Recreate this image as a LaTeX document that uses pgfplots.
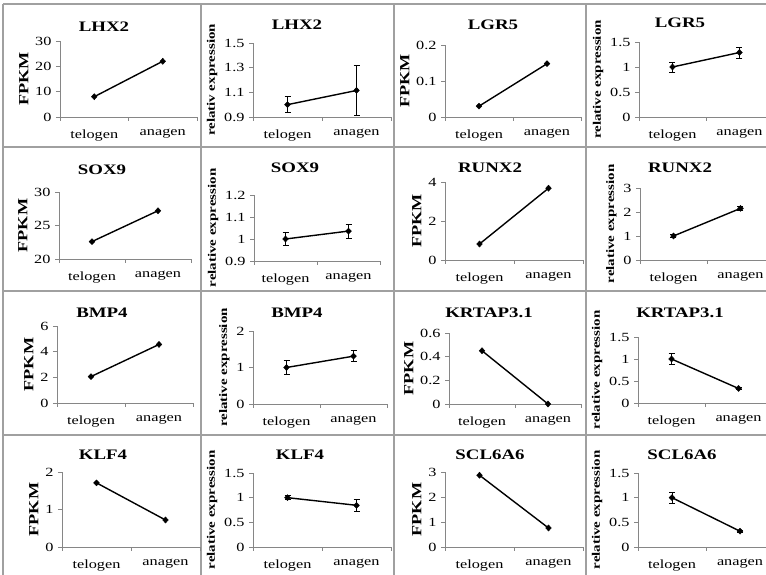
\documentclass[border=0pt]{standalone}
\usepackage{fontspec}
\setmainfont{Liberation Serif}[FakeStretch=1.3]
\usepackage{pgfplots}
\pgfplotsset{compat=1.18}
\definecolor{axgray}{HTML}{868686}
\definecolor{bordgray}{HTML}{A0A0A0}
\pgfplotsset{
  panel/.style={
    scale only axis, anchor=south west, clip=false,
    axis x line*=bottom, axis y line*=left,
    axis line style={draw=axgray, line width=0.8pt, -},
    xmin=0.5, xmax=2.5,
    xtick={1,2}, xticklabels={telogen,anagen},
    minor xtick={0.5,1.5,2.5},
    major x tick style={draw=none},
    minor x tick style={draw=axgray, line width=0.8pt},
    y tick style={draw=axgray, line width=0.8pt},
    tick align=outside, major tick length=4pt, minor tick length=4pt,
    scaled y ticks=false,
    /pgf/number format/assume math mode=true,
    tick label style={font=\fontsize{12.5}{13}\selectfont, text=black},
    xticklabel style={yshift=-5pt},
    yticklabel style={/pgf/number format/fixed, xshift=-1pt},
    ylabel style={font=\fontsize{14}{15}\selectfont\bfseries, yshift=0pt},
  },
  rel/.style={ylabel style={font=\fontsize{11.5}{12}\selectfont\bfseries}},
  pl/.style={black, line width=1.4pt, mark=diamond*, mark size=3pt,
    mark options={solid, fill=black, line width=0.4pt, xscale=1.3}},
  errs/.style={error bars/.cd, y dir=both, y explicit,
    error bar style={line width=0.9pt, black},
    error mark options={rotate=90, mark size=3pt, line width=0.9pt, black}},
}
\newcommand{\panel}[6]{\begin{axis}[panel,at={(#1)},width=#2pt,height=#3pt,#4,ylabel={#5}]\addplot#6;\end{axis}}
\newcommand{\ttl}[2]{\node[font=\fontsize{14.5}{15}\selectfont\bfseries, inner sep=0pt, anchor=center] at (#1) {#2};}
\begin{document}
\begin{tikzpicture}
% panel borders
\begin{scope}[draw=bordgray, line width=1.2pt]
\draw (3pt,571pt) -- (766pt,571pt);
\draw (3pt,428pt) -- (766pt,428pt);
\draw (3pt,284pt) -- (766pt,284pt);
\draw (3pt,140pt) -- (766pt,140pt);
\draw (3pt,571pt) -- (3pt,0pt);
\draw (201pt,571pt) -- (201pt,0pt);
\draw (394pt,571pt) -- (394pt,0pt);
\draw (586pt,571pt) -- (586pt,0pt);
\end{scope}
% row 1
\panel{60pt,458pt}{137}{76}{ymin=0,ymax=30,ytick={0,10,20,30}}{FPKM}{[pl] coordinates {(1,8) (2,22)}}
\panel{253pt,458pt}{138}{74}{rel,ymin=0.9,ymax=1.5,ytick={0.9,1.1,1.3,1.5}}{relativ expression}{[pl,errs] coordinates {(1,1.0) +- (0,0.065) (2,1.115) +- (0,0.2)}}
\panel{445pt,458pt}{136}{72}{ymin=0,ymax=0.2,ytick={0,0.1,0.2}}{FPKM}{[pl] coordinates {(1,0.03) (2,0.148)}}
\panel{639pt,458pt}{127}{75}{rel,xmax=2.396,ymin=0,ymax=1.5,ytick={0,0.5,1,1.5}}{relative expression}{[pl,errs] coordinates {(1,1.0) +- (0,0.1) (2,1.29) +- (0,0.11)}}
% row 2
\panel{59pt,316pt}{132}{67}{ymin=20,ymax=30,ytick={20,25,30}}{FPKM}{[pl] coordinates {(1,22.6) (2,27.2)}}
\panel{254pt,314pt}{126}{66}{rel,ymin=0.9,ymax=1.2,ytick={0.9,1,1.1,1.2}}{relative expression}{[pl,errs] coordinates {(1,1.0) +- (0,0.028) (2,1.036) +- (0,0.032)}}
\panel{445pt,315pt}{138}{78}{ymin=0,ymax=4,ytick={0,2,4}}{FPKM}{[pl] coordinates {(1,0.82) (2,3.68)}}
\panel{640pt,315pt}{126}{72}{rel,xmax=2.381,ymin=0,ymax=3,ytick={0,1,2,3}}{relative expression}{[pl,errs] coordinates {(1,1.0) +- (0,0.05) (2,2.15) +- (0,0.08)}}
% row 3
\panel{57pt,172pt}{136}{77}{ymin=0,ymax=6,ytick={0,2,4,6}}{FPKM}{[pl] coordinates {(1,2.06) (2,4.56)}}
\panel{253pt,171pt}{134}{73}{rel,ymin=0,ymax=2,ytick={0,1,2}}{relative expression}{[pl,errs] coordinates {(1,1.0) +- (0,0.18) (2,1.31) +- (0,0.15)}}
\panel{449pt,171pt}{132}{71}{ymin=0,ymax=0.6,ytick={0,0.2,0.4,0.6}}{FPKM}{[pl] coordinates {(1,0.45) (2,0.0)}}
\panel{638pt,172pt}{128}{66}{rel,xmax=2.41,ymin=0,ymax=1.5,ytick={0,0.5,1,1.5}}{relative expression}{[pl,errs] coordinates {(1,1.0) +- (0,0.12) (2,0.33) +- (0,0.02)}}
% row 4
\panel{62pt,28pt}{138}{75}{ymin=0,ymax=2,ytick={0,1,2}}{FPKM}{[pl] coordinates {(1,1.71) (2,0.72)}}
\panel{253pt,28pt}{138}{74}{rel,ymin=0,ymax=1.5,ytick={0,0.5,1,1.5}}{relative expression}{[pl,errs] coordinates {(1,1.0) +- (0,0.04) (2,0.845) +- (0,0.12)}}
\panel{445pt,28pt}{138}{75}{ymin=0,ymax=3,ytick={0,1,2,3}}{FPKM}{[pl] coordinates {(1,2.87) (2,0.76)}}
\panel{638pt,28pt}{128}{74}{rel,xmax=2.382,ymin=0,ymax=1.5,ytick={0,0.5,1,1.5}}{relative expression}{[pl,errs] coordinates {(1,1.0) +- (0,0.11) (2,0.32) +- (0,0.02)}}
% titles
\ttl{104pt,548pt}{LHX2}
\ttl{297pt,550pt}{LHX2}
\ttl{493pt,550pt}{LGR5}
\ttl{680pt,552pt}{LGR5}
\ttl{102pt,405pt}{SOX9}
\ttl{295pt,407pt}{SOX9}
\ttl{490pt,407pt}{RUNX2}
\ttl{680pt,407pt}{RUNX2}
\ttl{102pt,262pt}{BMP4}
\ttl{297pt,262pt}{BMP4}
\ttl{489pt,262pt}{KRTAP3.1}
\ttl{680pt,262pt}{KRTAP3.1}
\ttl{103pt,120pt}{KLF4}
\ttl{300pt,120pt}{KLF4}
\ttl{490pt,120pt}{SCL6A6}
\ttl{682pt,120pt}{SCL6A6}
\pgfresetboundingbox
\path[use as bounding box] (0pt,0pt) rectangle (766pt,575pt);
\end{tikzpicture}
\end{document}
